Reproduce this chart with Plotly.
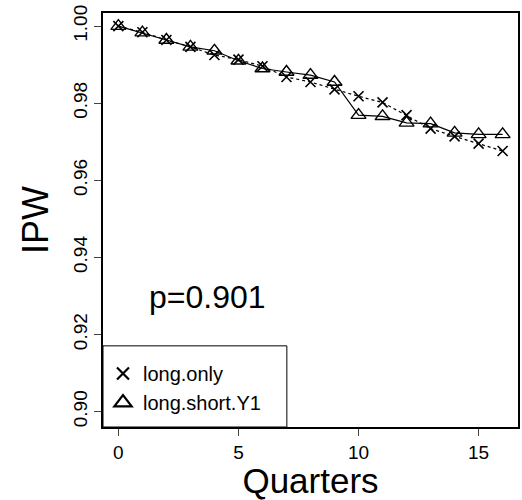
import plotly.graph_objects as go

quarters = list(range(17))
long_only = [1.000, 0.9984, 0.9964, 0.9946, 0.9925, 0.9913, 0.9896, 0.9868, 0.9855, 0.9836,
             0.9818, 0.9802, 0.9769, 0.9734, 0.9714, 0.9695, 0.9676]
long_short_y1 = [1.000, 0.9983, 0.9964, 0.9946, 0.9936, 0.9910, 0.9890, 0.9881, 0.9873, 0.9855,
                 0.9769, 0.9766, 0.9749, 0.9747, 0.9723, 0.9719, 0.9719]
y_ticks = [0.90, 0.92, 0.94, 0.96, 0.98, 1.00]
x_ticks = [0, 5, 10, 15]
p_label = "p=0.901"

FONT = "Liberation Sans, Arial, Helvetica, sans-serif"

fig = go.Figure()
fig.add_trace(go.Scatter(
    x=quarters, y=long_only, mode="lines+markers", showlegend=False,
    line=dict(color="black", width=1.2, dash="dot"),
    marker=dict(symbol="x-thin-open", size=10, color="black", line=dict(color="black", width=1.6)),
))
fig.add_trace(go.Scatter(
    x=quarters, y=long_short_y1, mode="lines+markers", showlegend=False,
    line=dict(color="black", width=1.2),
    marker=dict(symbol="triangle-up-open", size=13, color="black", line=dict(color="black", width=1.4)),
))
# legend entries (markers only, as in the reference)
fig.add_trace(go.Scatter(
    x=[None], y=[None], mode="markers", name="long.only",
    marker=dict(symbol="x-thin-open", size=12, color="black", line=dict(color="black", width=2.2)),
))
fig.add_trace(go.Scatter(
    x=[None], y=[None], mode="markers", name="long.short.Y1",
    marker=dict(symbol="triangle-up-open", size=15, color="black", line=dict(color="black", width=2.2)),
))

fig.add_annotation(x=3.7, y=0.9296, xref="x", yref="y", text=p_label, showarrow=False,
                   font=dict(size=32, color="black", family=FONT))

fig.add_shape(type="rect", xref="paper", yref="paper", x0=0, x1=0.443, y0=0, y1=0.196,
              line=dict(color="black", width=1), fillcolor="rgba(0,0,0,0)")

fig.update_layout(
    width=522, height=500,
    margin=dict(l=103, r=4, t=13, b=73),
    paper_bgcolor="white", plot_bgcolor="white",
    font=dict(family=FONT, color="black", size=19),
    legend=dict(x=0.0, y=0.012, xanchor="left", yanchor="bottom",
                bgcolor="rgba(0,0,0,0)", borderwidth=0,
                font=dict(size=20, family=FONT), itemsizing="trace",
                tracegroupgap=0),
)
fig.update_xaxes(
    range=[-0.64, 16.64], tickvals=x_ticks, ticks="outside", ticklen=7, tickwidth=1,
    showline=True, linecolor="black", linewidth=1.5, mirror=True, showgrid=False, zeroline=False,
    tickfont=dict(size=19), automargin=False,
    title=dict(text="Quarters", font=dict(size=35), standoff=9),
)
fig.update_yaxes(
    range=[0.896, 1.0034], tickvals=y_ticks, tickformat=".2f", tickangle=-90,
    ticks="outside", ticklen=7, tickwidth=1,
    showline=True, linecolor="black", linewidth=1.5, mirror=True, showgrid=False, zeroline=False,
    tickfont=dict(size=19), automargin=False,
    title=dict(text="IPW", font=dict(size=36), standoff=10),
)

# remove the default 8px body margin so the figure fills the window exactly
fig.write_html("out.html", post_script="document.body.style.margin='0';",
               config={"displayModeBar": False})
